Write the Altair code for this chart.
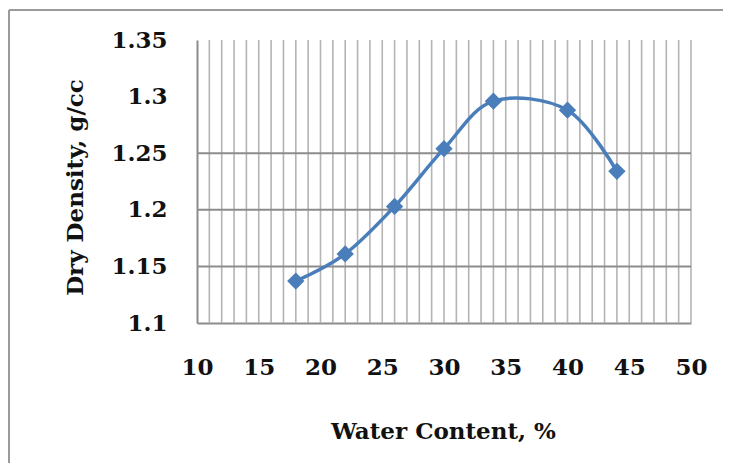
import altair as alt
import pandas as pd

water = [18, 22, 26, 30, 34, 40, 44]
density = [1.137, 1.161, 1.203, 1.254, 1.296, 1.288, 1.234]
x_ticks = [10, 15, 20, 25, 30, 35, 40, 45, 50]
y_ticks = [1.1, 1.15, 1.2, 1.25, 1.3, 1.35]
v_grid = list(range(11, 51))
h_grid = [1.15, 1.2, 1.25]

df = pd.DataFrame({"w": water, "d": density})
vg = pd.DataFrame({"w": v_grid})
hg = pd.DataFrame({"d": h_grid})

FONT = "DejaVu Serif"
FS = 23
xs = alt.Scale(domain=[10, 50], nice=False, zero=False)
ys = alt.Scale(domain=[1.1, 1.35], nice=False, zero=False)

x_axis = alt.Axis(
    values=x_ticks, grid=False, ticks=False, domainColor="#8c8c8c", domainWidth=2,
    labelFont=FONT, labelFontSize=FS, labelFontWeight="bold", labelColor="#111",
    labelPadding=33, labelBaseline="top", labelFlush=False,
    titleFont=FONT, titleFontSize=FS, titleFontWeight="bold",
    titleColor="#111", titleX=246, titleY=108, titleAlign="center", titleBaseline="middle")
y_axis = alt.Axis(
    values=y_ticks, format=".2~f", grid=False, ticks=False, domainColor="#8c8c8c", domainWidth=2,
    labelFont=FONT, labelFontSize=FS, labelFontWeight="bold", labelColor="#111",
    labelPadding=30, labelFlush=False,
    titleFont=FONT, titleFontSize=FS, titleFontWeight="bold",
    titleColor="#111", titleX=-122, titleY=147, titleAlign="center", titleBaseline="middle",
    titleAngle=270)

X = alt.X("w:Q", scale=xs, axis=x_axis, title="Water Content, %")
Y = alt.Y("d:Q", scale=ys, axis=y_axis, title="Dry Density, g/cc")

vrules = alt.Chart(vg).mark_rule(color="#b4b4b4", strokeWidth=1.6).encode(x=X)
hrules = alt.Chart(hg).mark_rule(color="#8c8c8c", strokeWidth=2).encode(y=Y)

base = alt.Chart(df).encode(x=X, y=Y)
line = base.mark_line(color="#4a7ebb", strokeWidth=3.5, interpolate="cardinal")
pts = base.mark_point(shape="diamond", filled=True, size=300, color="#4a7ebb", opacity=1)

one = alt.Data(values=[{}])
frame_top = alt.Chart(one).mark_rule(color="#9a9a9a", strokeWidth=2).encode(
    x=alt.value(-188), x2=alt.value(1000), y=alt.value(-30)
)
frame_left = alt.Chart(one).mark_rule(color="#9a9a9a", strokeWidth=2).encode(
    x=alt.value(-188), y=alt.value(-30), y2=alt.value(600)
)

chart = alt.layer(frame_top, frame_left, vrules, hrules, line, pts).properties(
    width=494, height=283,
    autosize=alt.AutoSizeParams(type="none"),
    padding={"left": 189, "top": 32, "right": 32, "bottom": 140},
).configure_view(stroke=None)

chart.save("out.html", embed_options={"renderer": "svg", "actions": False})
